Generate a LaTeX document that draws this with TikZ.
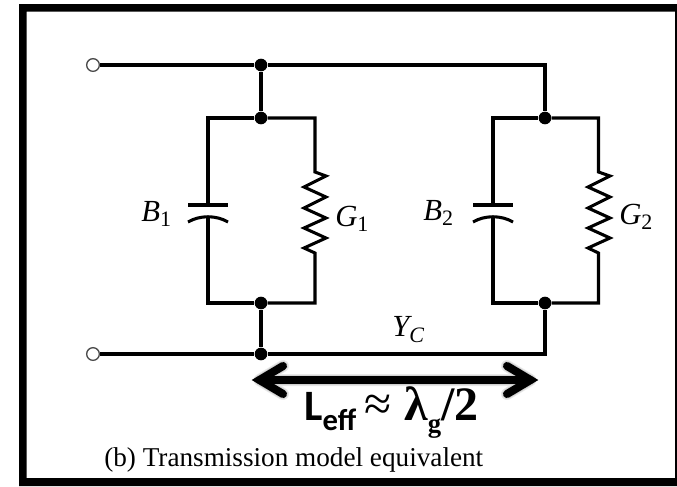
\documentclass[tikz,border=0pt]{standalone}
\usepackage{fontspec}
\setmainfont{Liberation Serif}
\newfontfamily\calfont{Carlito}
\tikzset{
 x=0.75pt,y=-0.75pt,
 wire/.style={line width=2.3pt,line join=miter},
 dotn/.style={circle,fill=black,inner sep=0pt,minimum size=9.5pt},
 opent/.style={circle,draw=black!70,fill=white,line width=1pt,inner sep=0pt,minimum size=9.5pt},
 lab/.style={inner sep=0pt,font=\fontsize{23}{24}\selectfont\itshape},
 bigarrow/.style={line width=6pt,line cap=round},
 shadowarrow/.style={line cap=round,line join=round,black,opacity=0.09},
}
\newcommand{\subn}[1]{\raisebox{-4pt}{\fontsize{16.5}{17}\selectfont\upshape #1}}
\begin{document}
\begin{tikzpicture}
\useasboundingbox (0,0) rectangle (677,486);
\fill[white] (0,0) rectangle (677,486);
\fill[black,even odd rule] (19,4) rectangle (677,486) (26.5,11.5) rectangle (675,478);
% nodes
\node[opent] (t1) at (93,65) {};
\node[opent] (t2) at (93,354) {};
\node[dotn] (j1) at (261,65) {};
\node[dotn] (j2) at (261,118) {};
\node[dotn] (j3) at (261,303) {};
\node[dotn] (j4) at (261,354) {};
\node[dotn] (k2) at (545,118) {};
\node[dotn] (k3) at (545,303) {};
\coordinate (c1) at (545,65);
\coordinate (c4) at (545,354);
% wires
\draw[wire] (t1) -- (j1) -- (c1) -- (k2);
\draw[wire] (t2) -- (j4) -- (c4) -- (k3);
\draw[wire] (j1) -- (j2);
\draw[wire] (j3) -- (j4);
% left branch
\draw[wire] (208,205) |- (j2) (208,217) |- (j3);
\draw[wire] (188,205) -- (228,205);
\draw[wire] (188,222) .. controls (200,215) and (216,215) .. (228,222);
\draw[wire] (j2) -- (315,118) -- (315,172)
 -- (326,176) -- (304,187) -- (326,197) -- (304,208) -- (326,218) -- (304,228) -- (326,238) -- (304,248) -- (315,253)
 -- (315,303) -- (j3);
% right branch
\draw[wire] (493,205) |- (k2) (493,217) |- (k3);
\draw[wire] (473,205) -- (513,205);
\draw[wire] (473,222) .. controls (485,215) and (501,215) .. (513,222);
\draw[wire] (k2) -- (598.5,118) -- (598.5,172)
 -- (610,176) -- (588,187) -- (610,197) -- (588,208) -- (610,218) -- (588,228) -- (610,238) -- (588,248) -- (598.5,253)
 -- (598.5,303) -- (k3);
% labels
\node[lab,anchor=base west] (b1) at (141,221) {B\subn{1}};
\node[lab,anchor=base west] (g1) at (335,226) {G\subn{1}};
\node[lab,anchor=base west] (b2) at (423,220) {B\subn{2}};
\node[lab,anchor=base west] (g2) at (619,224) {G\subn{2}};
\node[lab,anchor=base west] (yc) at (392,336) {Y\raisebox{-5pt}{\fontsize{16.5}{17}\selectfont C}};
% arrow
\coordinate (al) at (259.5,380);
\coordinate (ar) at (530.5,380);
\coordinate (alt) at (283,366);
\coordinate (alb) at (283,394);
\coordinate (art) at (507,366);
\coordinate (arb) at (507,394);
\begin{scope}[shift={(1,4)}]
\foreach \w in {6,7.5,9}{
\draw[shadowarrow,line width=\w pt] (alt) -- (al) -- (alb) (art) -- (ar) -- (arb) (al) -- (ar);
}
\end{scope}
\draw[bigarrow,line join=miter] (alt) -- (al) -- (alb);
\draw[bigarrow,line join=miter] (art) -- (ar) -- (arb);
\draw[bigarrow] (al) -- (ar);
\node[inner sep=0pt,anchor=base west] (leff) at (304,420) {\calfont\bfseries\fontsize{32.5}{33}\selectfont L\raisebox{-8pt}{\fontsize{23}{23}\selectfont eff}};
\node[inner sep=0pt,anchor=base west] (approx) at (364,420) {\fontsize{37}{37}\selectfont ≈};
\node[inner sep=0pt,anchor=base west] (lam) at (404,420) {\bfseries\fontsize{36}{36}\selectfont λ\raisebox{-9pt}{\fontsize{20}{20}\selectfont g}/2};
\node[inner sep=0pt,anchor=base west] (cap) at (104,466) {\fontsize{20.4}{21}\selectfont (b) Transmission model equivalent};
\end{tikzpicture}
\end{document}
